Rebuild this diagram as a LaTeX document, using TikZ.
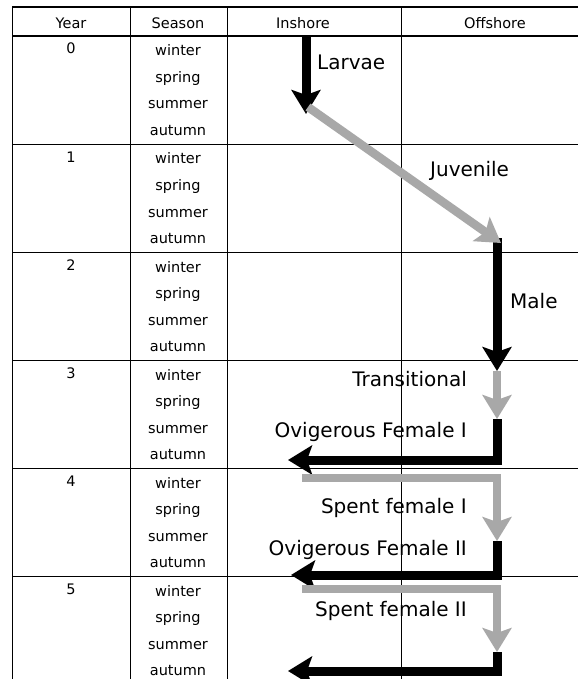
\documentclass[tikz,border=0pt]{standalone}
\usepackage{fontspec}
\setmainfont{DejaVu Sans}
\usetikzlibrary{arrows.meta}
\definecolor{arrgray}{RGB}{168,168,168}
\tikzset{
  tline/.style={line width=0.8pt, black},
  tthick/.style={line width=1.4pt, black},
  hdr/.style={font=\fontsize{14.5}{17}\selectfont, inner sep=0pt, anchor=base},
  cell/.style={font=\fontsize{14.5}{17}\selectfont, inner sep=0pt, anchor=base},
  lab/.style={font=\fontsize{20}{24}\selectfont, inner sep=0pt},
  blk/.style={line width=9pt, black, line join=miter, line cap=butt,
    -{Stealth[length=24pt,width=29pt,inset=5pt]}},
  gry/.style={line width=8.5pt, arrgray, line join=miter, line cap=butt,
    -{Stealth[length=24pt,width=29pt,inset=5pt]}},
}
\begin{document}
\begin{tikzpicture}[x=1pt,y=-1pt]
\useasboundingbox (0,0) rectangle (578,679);
\fill[white] (0,0) rectangle (578,679);
% table lines
\draw[tthick] (12,7) -- (578,7);
\draw[tthick] (12,36) -- (578,36);
\foreach \yy in {144,252,360,468,576} \draw[tline] (12,\yy) -- (578,\yy);
\foreach \xx in {12,130,227,401} \draw[tline] (\xx,7) -- (\xx,679);
% header
\node[hdr] (hYear) at (71,29) {Year};
\node[hdr] (hSeason) at (178,29) {Season};
\node[hdr] (hIn) at (303,29) {Inshore};
\node[hdr] (hOff) at (495,29) {Offshore};
% rows
\foreach \r in {0,...,5} {
  \pgfmathsetmacro\tp{36+108*\r}
  \node[cell] (yr\r) at (71,\tp+18) {\r};
  \node[cell] (w\r) at (178,\tp+20) {winter};
  \node[cell] (sp\r) at (178,\tp+46.5) {spring};
  \node[cell] (su\r) at (178,\tp+73) {summer};
  \node[cell] (au\r) at (178,\tp+99.5) {autumn};
}
% coordinates
\coordinate (La0) at (306,36);
\coordinate (La1) at (306,114);
\coordinate (J0) at (308,107);
\coordinate (J1) at (501,243);
\coordinate (M0) at (497,238);
\coordinate (M1) at (497,371);
\coordinate (T1) at (497,419);
\coordinate (C1) at (497,460);
\coordinate (F1) at (288,460);
\coordinate (S1a) at (302,478);
\coordinate (S1b) at (497,478);
\coordinate (S1c) at (497,541);
\coordinate (C2) at (497,575);
\coordinate (F2) at (291,575);
\coordinate (S2a) at (302,589);
\coordinate (S2b) at (497,589);
\coordinate (S2c) at (497,652);
\coordinate (C3) at (497,671);
\coordinate (F3) at (288,671);
% black arrows
\draw[blk] (La0) -- (La1);
\draw[blk] (M0) -- (M1);
\draw[blk] (T1) -- (C1) -- (F1);
\draw[blk] (S1c) -- (C2) -- (F2);
\draw[blk] (S2c) -- (C3) -- (F3);
% gray arrows
\draw[gry] (J0) -- (J1);
\draw[gry] (M1) -- (T1);
\draw[gry] (S1a) -- (S1b) -- (S1c);
\draw[gry] (S2a) -- (S2b) -- (S2c);
% labels
\node[lab, anchor=base west] (lLarvae) at (317,70) {Larvae};
\node[lab, anchor=base west] (lJuv) at (430,176) {Juvenile};
\node[lab, anchor=base west] (lMale) at (510,308) {Male};
\node[lab, anchor=base east] (lTrans) at (467,386) {Transitional};
\node[lab, anchor=base east] (lOF1) at (467,437) {Ovigerous Female I};
\node[lab, anchor=base east] (lSF1) at (467,513) {Spent female I};
\node[lab, anchor=base east] (lOF2) at (467,555) {Ovigerous Female II};
\node[lab, anchor=base east] (lSF2) at (467,616) {Spent female II};
\end{tikzpicture}
\end{document}
